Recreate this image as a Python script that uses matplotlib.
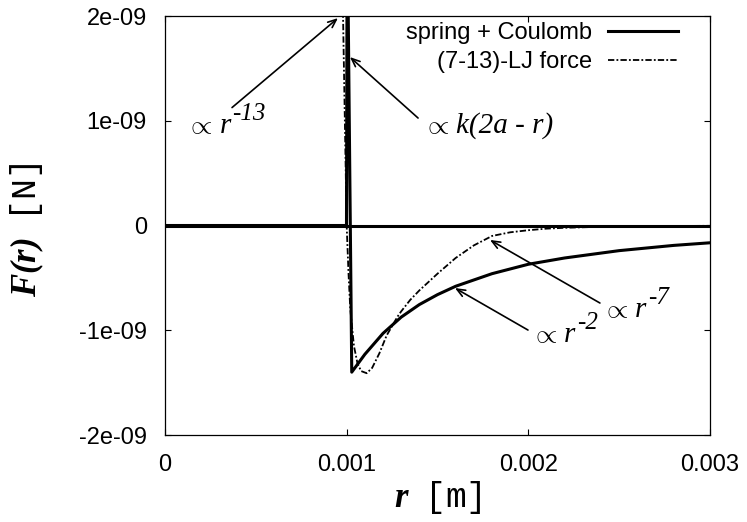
import numpy as np
import matplotlib.pyplot as plt

plt.rcParams['mathtext.fontset'] = 'custom'
plt.rcParams['mathtext.rm'] = 'Liberation Serif'
plt.rcParams['mathtext.it'] = 'Liberation Serif:italic'
plt.rcParams['mathtext.bf'] = 'Liberation Serif:bold'
plt.rcParams['mathtext.bfit'] = 'Liberation Serif:italic:bold'
plt.rcParams['mathtext.tt'] = 'Liberation Mono'
plt.rcParams['font.family'] = 'Liberation Sans'

# spring + Coulomb (r in m, F in N)
r_sc = [0.0, 0.000999, 0.001003, 0.001028, 0.0011, 0.0012, 0.0013, 0.0014,
        0.0015, 0.0016, 0.0018, 0.002, 0.0022, 0.0025, 0.0028, 0.003]
f_sc = [0.0, 0.0, 3.0e-9, -1.40e-9, -1.23e-9, -1.03e-9, -0.875e-9, -0.755e-9,
        -0.66e-9, -0.58e-9, -0.46e-9, -0.37e-9, -0.31e-9, -0.24e-9, -0.19e-9, -0.165e-9]

# (7-13)-LJ force
r_lj = [0.00096, 0.00098, 0.00099, 0.001, 0.00101, 0.00102, 0.00104, 0.00106,
        0.00108, 0.00111, 0.00114, 0.00118, 0.00122, 0.00128, 0.0013, 0.00135,
        0.0014, 0.0015, 0.0016, 0.0017, 0.0018, 0.0019, 0.002, 0.0021, 0.0022,
        0.0024, 0.0027, 0.003]
f_lj = [3.5e-9, 2.0e-9, 1.0e-9, 0.0, -0.45e-9, -0.8e-9, -1.15e-9, -1.32e-9,
        -1.39e-9, -1.41e-9, -1.36e-9, -1.22e-9, -1.05e-9, -0.87e-9, -0.82e-9, -0.71e-9,
        -0.62e-9, -0.46e-9, -0.31e-9, -0.19e-9, -0.10e-9, -0.065e-9, -0.045e-9, -0.03e-9, -0.022e-9,
        -0.012e-9, -0.006e-9, -0.003e-9]

x_ticks = [0, 0.001, 0.002, 0.003]
x_labels = ['0', '0.001', '0.002', '0.003']
y_ticks = [-2e-9, -1e-9, 0, 1e-9, 2e-9]
y_labels = ['-2e-09', '-1e-09', '0', '1e-09', '2e-09']

fig = plt.figure(figsize=(7.47, 5.22), dpi=100)
ax = fig.add_axes([165/747, 1 - 435/522, 545/747, 419/522])

ax.axhline(0, color='black', lw=2.2, zorder=1)
ax.plot(r_sc, f_sc, color='black', lw=2.2, label='spring + Coulomb', zorder=3)
ax.plot(r_lj, f_lj, color='black', lw=1.3, dashes=(3.5, 1.2, 1, 1.2),
        label='(7-13)-LJ force', zorder=2)

ax.set_xlim(0, 0.003)
ax.set_ylim(-2e-9, 2e-9)
ax.set_xticks(x_ticks, x_labels)
ax.set_yticks(y_ticks, y_labels)
ax.tick_params(direction='in', length=4.5, width=0.8, top=True, right=True,
               labelsize=17, pad=13)
ax.tick_params(axis='x', pad=14)
for s in ax.spines.values():
    s.set_linewidth(0.9)

ax.set_xlabel(r'$\mathbfit{r}\ \ \mathtt{[m]}$', fontsize=25, labelpad=2)
ax.set_ylabel(r'$\mathbfit{F(r)}\ \ \mathtt{[N]}$', fontsize=25, labelpad=24, y=0.49)

leg = ax.legend(loc='upper right', bbox_to_anchor=(0.941, 0.985), frameon=False,
                markerfirst=False, fontsize=17, handlelength=2.95, handletextpad=0.7,
                borderpad=0, borderaxespad=0, labelspacing=0.3)

arr = dict(arrowstyle='->,head_length=0.6,head_width=0.25', color='black', lw=1.2,
           shrinkA=0, shrinkB=0)
serif = ['Liberation Serif', 'DejaVu Serif']
tsize = 21
# (text, superscript, text position, arrow tail, arrow tip)
notes = [
    ('r', '-13', (0.000118, 0.883e-9), (0.000369, 1.126e-9), (0.000952, 1.98e-9)),
    ('k(2a - r)', '', (0.001418, 0.883e-9), (0.001393, 1.026e-9), (0.001018, 1.608e-9)),
    ('r', '-2', (0.002015, -1.11e-9), (0.001998, -0.998e-9), (0.001596, -0.597e-9)),
    ('r', '-7', (0.002405, -0.873e-9), (0.002394, -0.74e-9), (0.001789, -0.138e-9)),
]
for txt, sup, pos, tail, tip in notes:
    p = ax.text(pos[0], pos[1], r'$\propto$', fontsize=tsize - 1, ha='left', va='baseline')
    t = ax.annotate(txt, xy=(1, 0), xycoords=p, xytext=(5, 0), textcoords='offset points',
                    fontsize=tsize, family=serif, style='italic', ha='left', va='bottom')
    if sup:
        ax.annotate(sup, xy=(1, 0), xycoords=t, xytext=(1, 10), textcoords='offset points',
                    fontsize=tsize - 3, family=serif, style='italic',
                    ha='left', va='bottom')
    ax.annotate('', xy=tip, xytext=tail, arrowprops=arr)

fig.savefig('out.png', dpi=100)
